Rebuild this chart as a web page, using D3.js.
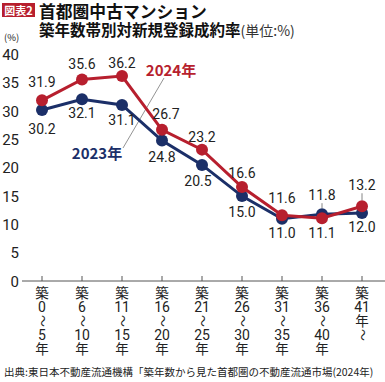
<!DOCTYPE html>
<html><head><meta charset="utf-8">
<script src="https://cdn.jsdelivr.net/npm/d3@7"></script>
<style>
body{margin:0;background:#fff;}
svg{display:block;font-family:"Noto Sans CJK JP","Noto Sans",sans-serif;}
</style></head>
<body><div id="chart"></div>
<script>
const categories = [["築","0","～","5","年"],["築","6","～","10","年"],["築","11","～","15","年"],["築","16","～","20","年"],["築","21","～","25","年"],["築","26","～","30","年"],["築","31","～","35","年"],["築","36","～","40","年"],["築","41","年","～"]];
const values2023 = [30.2,32.1,31.1,24.8,20.5,15.0,11.0,11.8,12.0];
const values2024 = [31.9,35.6,36.2,26.7,23.2,16.6,11.6,11.1,13.2];
const yTicks = [0,5,10,15,20,25,30,35,40];
const seriesNames = ["2023年","2024年"];
const titleLine1 = "首都圏中古マンション";
const titleLine2 = "築年数帯別対新規登録成約率";
const unitText = "(単位:%)";
const badgeText = "図表2";
const sourceText = "出典:東日本不動産流通機構「築年数から見た首都圏の不動産流通市場(2024年)";

const W=385,H=382;
const RED="#b71f2e", NAVY="#1b2f68", TXT="#222";
const svg=d3.select("#chart").append("svg").attr("width",W).attr("height",H);

const x=d3.scalePoint().domain(d3.range(categories.length)).range([42,362]);
const y=d3.scaleLinear().domain([0,40]).range([281,54.5]);

// title
svg.append("rect").attr("x",2).attr("y",3).attr("width",33).attr("height",14).attr("fill",RED);
svg.append("text").attr("x",18.5).attr("y",14.5).attr("text-anchor","middle").attr("fill","#fff")
  .attr("font-size",11).attr("font-weight","bold").text(badgeText);
svg.append("text").attr("x",39).attr("y",18).attr("font-size",16.8).attr("font-weight","bold").attr("fill","#111").text(titleLine1);
const t2=svg.append("text").attr("x",39).attr("y",35.5).attr("font-weight","bold").attr("fill","#111");
t2.append("tspan").attr("font-size",15.5).text(titleLine2);
t2.append("tspan").attr("font-size",14).attr("font-weight","normal").attr("fill","#333").text(unitText);
svg.append("text").attr("x",4).attr("y",41).attr("font-size",9.5).attr("fill",TXT).text("(%)");

// y axis labels
svg.append("g").selectAll("text").data(yTicks).join("text")
  .attr("x",19).attr("y",d=>y(d)+5.5).attr("text-anchor","end").attr("font-size",15)
  .attr("font-family","Roboto,sans-serif").attr("fill",TXT).text(d=>d);

// x axis
svg.append("line").attr("x1",22).attr("x2",385).attr("y1",y(0)).attr("y2",y(0)).attr("stroke","#555").attr("stroke-width",1);
svg.append("g").selectAll("line").data(categories).join("line")
  .attr("x1",(d,i)=>x(i)).attr("x2",(d,i)=>x(i)).attr("y1",y(0)).attr("y2",y(0)-5).attr("stroke","#555");
const xl=svg.append("g").attr("fill",TXT);
categories.forEach((c,i)=>{
  c.forEach((s,j)=>{
    const cy=293+j*14;
    if(s==="～"){
      xl.append("text").attr("transform",`translate(${x(i)},${cy}) rotate(90)`)
        .attr("text-anchor","middle").attr("dy","0.35em").attr("font-size",12).text(s);
    } else {
      const digit=/\d/.test(s);
      xl.append("text").attr("x",x(i)).attr("y",cy).attr("dy","0.36em").attr("text-anchor","middle")
        .attr("font-family",digit?"Roboto,sans-serif":null).attr("font-size",digit?14:13.5).text(s);
    }
  });
});

// leader line for series names
svg.append("line").attr("x1",164).attr("y1",78).attr("x2",123).attr("y2",148).attr("stroke","#777").attr("stroke-width",0.8);
svg.append("text").attr("x",171).attr("y",75.5).attr("text-anchor","middle").attr("font-size",15).attr("font-weight","bold")
  .attr("fill",RED).text(seriesNames[1]);
svg.append("text").attr("x",97).attr("y",158.5).attr("text-anchor","middle").attr("font-size",15).attr("font-weight","bold")
  .attr("fill",NAVY).text(seriesNames[0]);

// series
const line=d3.line().x((d,i)=>x(i)).y(d=>y(d));
[[values2023,NAVY],[values2024,RED]].forEach(([v,c])=>{
  svg.append("path").datum(v).attr("d",line).attr("fill","none").attr("stroke",c).attr("stroke-width",3);
  svg.append("g").selectAll("circle").data(v).join("circle")
    .attr("cx",(d,i)=>x(i)).attr("cy",d=>y(d)).attr("r",6).attr("fill",c);
});

// value labels (offsets from the marker)
const off2024=[[0,-18],[0,-15],[0,-13],[4,-16],[0,-13],[0,-14],[0,-17],[0,15],[0,-21]];
const off2023=[[0,19],[0,14],[0,15],[0,16],[-4,16],[0,16],[0,14],[0,-19],[0,14]];
const lbl=svg.append("g").attr("font-size",14).attr("font-family","Roboto,sans-serif").attr("fill",TXT).attr("text-anchor","middle");
const lead=svg.append("g").attr("stroke","#666").attr("stroke-width",0.8);
[[values2024,off2024],[values2023,off2023]].forEach(([vals,offs])=>{
  vals.forEach((v,i)=>{
    const [dx,dy]=offs[i];
    lbl.append("text").attr("x",x(i)+dx).attr("y",y(v)+dy).attr("dy","0.36em").text(v.toFixed(1));
    if(dy<-18) lead.append("line").attr("x1",x(i)).attr("x2",x(i)).attr("y1",y(v)+dy+8).attr("y2",y(v)-6);
  });
});

// source
svg.append("text").attr("x",4).attr("y",376).attr("font-size",10.5).attr("fill",TXT).text(sourceText);
</script>
</body></html>
